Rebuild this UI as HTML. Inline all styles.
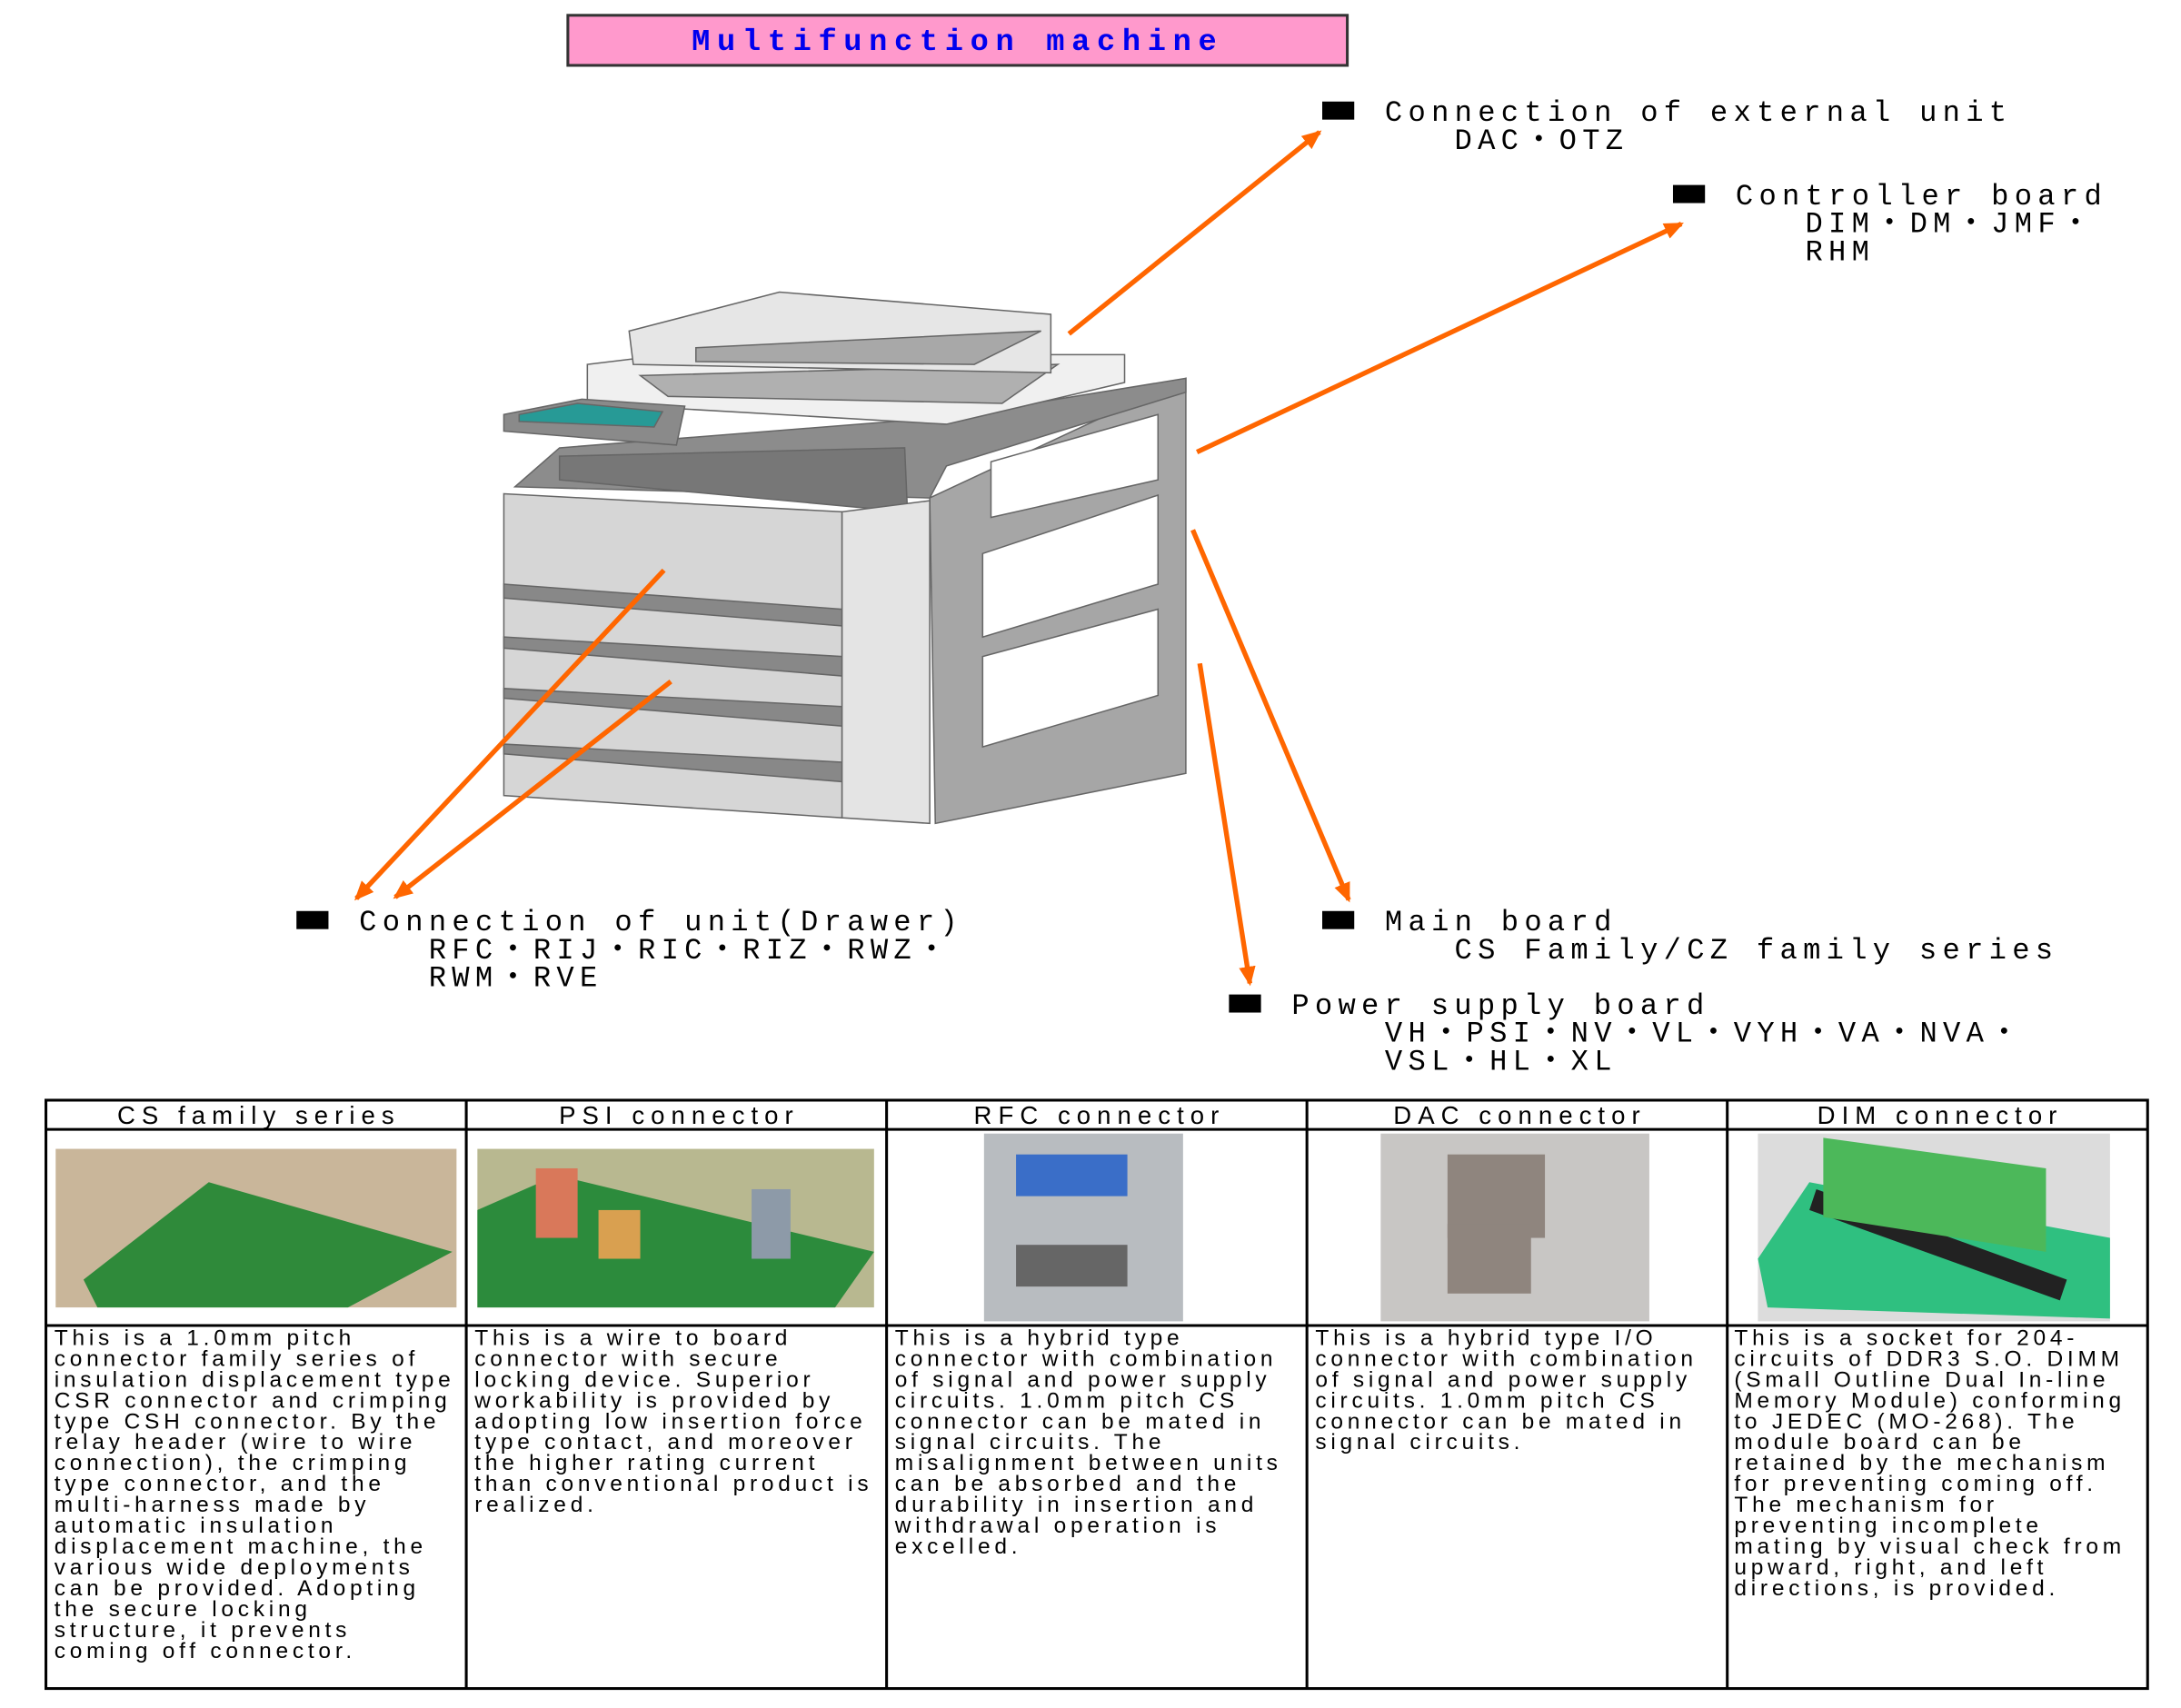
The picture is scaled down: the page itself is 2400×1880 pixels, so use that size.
<!DOCTYPE html>
<html><head><meta charset="utf-8"><style>
html,body{margin:0;padding:0;background:#fff;}
svg{display:block}
.lb{font-family:"Liberation Mono","Noto Sans CJK JP",monospace;font-size:21px;letter-spacing:4.1px;fill:#000}
.hd{font-family:"Liberation Sans",sans-serif;font-size:18px;letter-spacing:4.6px;fill:#000}
.bd{font-family:"Liberation Sans",sans-serif;font-size:16px;letter-spacing:3.1px;fill:#000}
</style></head><body>
<svg width="2400" height="1880" viewBox="0 0 1567 1228" preserveAspectRatio="none" xmlns="http://www.w3.org/2000/svg">
<defs>
<marker id="a2" markerWidth="14" markerHeight="12" refX="12" refY="6" orient="auto" markerUnits="userSpaceOnUse"><path d="M0,0 L14,6 L0,12 z" fill="#ff6600"/></marker></defs>
<rect x="408" y="11" width="560" height="36" fill="#ff99cc" stroke="#333" stroke-width="2"/>
<text x="688" y="36" text-anchor="middle" font-family="Liberation Mono,monospace" font-weight="bold" font-size="22" letter-spacing="5" fill="#0000ee">Multifunction machine</text>

<!-- printer -->
<g stroke="#666" stroke-width="1">
<polygon points="668,358 852,272 852,556 672,592" fill="#a6a6a6"/>
<polygon points="712,332 832,298 832,345 712,372" fill="#fff"/>
<polygon points="706,398 832,356 832,420 706,458" fill="#fff"/>
<polygon points="706,472 832,438 832,500 706,537" fill="#fff"/>
<polygon points="402,322 680,300 852,272 852,282 680,335 668,358 370,350" fill="#8c8c8c"/>
<polygon points="402,328 650,322 652,368 402,345" fill="#777"/>
<polygon points="362,355 605,368 605,588 362,572" fill="#d6d6d6"/>
<polygon points="362,420 605,438 605,450 362,430" fill="#888"/>
<polygon points="362,458 605,472 605,486 362,466" fill="#888"/>
<polygon points="362,495 605,508 605,522 362,502" fill="#888"/>
<polygon points="362,535 605,548 605,562 362,542" fill="#888"/>
<polygon points="605,368 668,360 668,592 605,588" fill="#e4e4e4"/>
<polygon points="422,262 480,255 808,255 808,275 680,305 422,290" fill="#f0f0f0"/>
<polygon points="460,270 760,262 720,290 480,285" fill="#b0b0b0"/>
<polygon points="452,238 560,210 755,226 755,268 455,262" fill="#e6e6e6"/>
<polygon points="500,250 748,238 700,262 500,260" fill="#a8a8a8"/>
<polygon points="362,298 418,287 492,292 486,320 362,310" fill="#8a8a8a"/>
<polygon points="373,298 415,290 476,296 470,307 373,303" fill="#279a96"/>
</g>

<!-- arrows -->
<g stroke="#ff6600" stroke-width="3.5" fill="none" marker-end="url(#a2)">
<line x1="768" y1="240" x2="948" y2="95"/>
<line x1="860" y1="325" x2="1208" y2="161"/>
<line x1="477" y1="410" x2="256" y2="646"/>
<line x1="482" y1="490" x2="284" y2="645"/>
<line x1="857" y1="381" x2="969" y2="647"/>
<line x1="862" y1="477" x2="898" y2="707"/>
</g>

<!-- labels -->
<g fill="#000">
<rect x="950" y="73" width="23" height="13"/><rect x="1202" y="133" width="23" height="13"/>
<rect x="213" y="655" width="23" height="13"/><rect x="950" y="655" width="23" height="13"/>
<rect x="883" y="715" width="23" height="13"/></g>
<text class="lb" x="995" y="87">Connection of external unit</text>
<text class="lb" x="1045" y="107">DAC・OTZ</text>
<text class="lb" x="1247" y="147">Controller board</text>
<text class="lb" x="1297" y="167">DIM・DM・JMF・</text>
<text class="lb" x="1297" y="187">RHM</text>
<text class="lb" x="258" y="669">Connection of unit(Drawer)</text>
<text class="lb" x="308" y="689">RFC・RIJ・RIC・RIZ・RWZ・</text>
<text class="lb" x="308" y="709">RWM・RVE</text>
<text class="lb" x="995" y="669">Main board</text>
<text class="lb" x="1045" y="689">CS Family/CZ family series</text>
<text class="lb" x="928" y="729">Power supply board</text>
<text class="lb" x="995" y="749">VH・PSI・NV・VL・VYH・VA・NVA・</text>
<text class="lb" x="995" y="769">VSL・HL・XL</text>

<!-- table -->
<g stroke="#000" stroke-width="2" fill="none">
<rect x="33" y="791" width="1510" height="423"/>
<line x1="33" y1="812" x2="1543" y2="812"/>
<line x1="33" y1="953" x2="1543" y2="953"/>
<line x1="335" y1="791" x2="335" y2="1214"/><line x1="637" y1="791" x2="637" y2="1214"/>
<line x1="939" y1="791" x2="939" y2="1214"/><line x1="1241" y1="791" x2="1241" y2="1214"/>
</g>
<g text-anchor="middle"><text class="hd" x="186" y="808">CS family series</text>
<text class="hd" x="488" y="808">PSI connector</text>
<text class="hd" x="790" y="808">RFC connector</text>
<text class="hd" x="1092" y="808">DAC connector</text>
<text class="hd" x="1394" y="808">DIM connector</text></g>

<!-- photo placeholders -->
<rect x="40" y="826" width="288" height="114" fill="#c9b69a"/>
<polygon points="60,920 150,850 325,900 250,940 70,940" fill="#2f8a3a"/>
<rect x="343" y="826" width="285" height="114" fill="#b8b890"/>
<polygon points="343,870 400,845 628,900 600,940 343,940" fill="#2c8b3c"/>
<rect x="385" y="840" width="30" height="50" fill="#d9785a"/><rect x="430" y="870" width="30" height="35" fill="#d9a050"/><rect x="540" y="855" width="28" height="50" fill="#8d9aa8"/>
<rect x="707" y="815" width="143" height="135" fill="#b8bcc0"/>
<rect x="730" y="830" width="80" height="30" fill="#3a6ec8"/><rect x="730" y="895" width="80" height="30" fill="#666"/>
<rect x="992" y="815" width="193" height="135" fill="#c8c6c4"/>
<rect x="1040" y="830" width="70" height="60" fill="#8f857e"/><rect x="1040" y="880" width="60" height="50" fill="#8f857e"/>
<rect x="1263" y="815" width="253" height="135" fill="#dcdcdc"/>
<polygon points="1263,905 1300,850 1516,890 1516,948 1270,940" fill="#2fc080"/>
<polygon points="1300,870 1480,935 1485,920 1305,855" fill="#222"/>
<polygon points="1310,818 1470,840 1470,900 1310,875" fill="#4cb85a"/>

<g class="bd">
<text class="bd" x="39" y="967">This is a 1.0mm pitch</text>
<text class="bd" x="39" y="982">connector family series of</text>
<text class="bd" x="39" y="997">insulation displacement type</text>
<text class="bd" x="39" y="1012">CSR connector and crimping</text>
<text class="bd" x="39" y="1027">type CSH connector. By the</text>
<text class="bd" x="39" y="1042">relay header (wire to wire</text>
<text class="bd" x="39" y="1057">connection), the crimping</text>
<text class="bd" x="39" y="1072">type connector, and the</text>
<text class="bd" x="39" y="1087">multi-harness made by</text>
<text class="bd" x="39" y="1102">automatic insulation</text>
<text class="bd" x="39" y="1117">displacement machine, the</text>
<text class="bd" x="39" y="1132">various wide deployments</text>
<text class="bd" x="39" y="1147">can be provided. Adopting</text>
<text class="bd" x="39" y="1162">the secure locking</text>
<text class="bd" x="39" y="1177">structure, it prevents</text>
<text class="bd" x="39" y="1192">coming off connector.</text>

<text class="bd" x="341" y="967">This is a wire to board</text>
<text class="bd" x="341" y="982">connector with secure</text>
<text class="bd" x="341" y="997">locking device. Superior</text>
<text class="bd" x="341" y="1012">workability is provided by</text>
<text class="bd" x="341" y="1027">adopting low insertion force</text>
<text class="bd" x="341" y="1042">type contact, and moreover</text>
<text class="bd" x="341" y="1057">the higher rating current</text>
<text class="bd" x="341" y="1072">than conventional product is</text>
<text class="bd" x="341" y="1087">realized.</text>

<text class="bd" x="643" y="967">This is a hybrid type</text>
<text class="bd" x="643" y="982">connector with combination</text>
<text class="bd" x="643" y="997">of signal and power supply</text>
<text class="bd" x="643" y="1012">circuits. 1.0mm pitch CS</text>
<text class="bd" x="643" y="1027">connector can be mated in</text>
<text class="bd" x="643" y="1042">signal circuits. The</text>
<text class="bd" x="643" y="1057">misalignment between units</text>
<text class="bd" x="643" y="1072">can be absorbed and the</text>
<text class="bd" x="643" y="1087">durability in insertion and</text>
<text class="bd" x="643" y="1102">withdrawal operation is</text>
<text class="bd" x="643" y="1117">excelled.</text>

<text class="bd" x="945" y="967">This is a hybrid type I/O</text>
<text class="bd" x="945" y="982">connector with combination</text>
<text class="bd" x="945" y="997">of signal and power supply</text>
<text class="bd" x="945" y="1012">circuits. 1.0mm pitch CS</text>
<text class="bd" x="945" y="1027">connector can be mated in</text>
<text class="bd" x="945" y="1042">signal circuits.</text>

<text class="bd" x="1246" y="967">This is a socket for 204-</text>
<text class="bd" x="1246" y="982">circuits of DDR3 S.O. DIMM</text>
<text class="bd" x="1246" y="997">(Small Outline Dual In-line</text>
<text class="bd" x="1246" y="1012">Memory Module) conforming</text>
<text class="bd" x="1246" y="1027">to JEDEC (MO-268).  The</text>
<text class="bd" x="1246" y="1042">module board can be</text>
<text class="bd" x="1246" y="1057">retained by the mechanism</text>
<text class="bd" x="1246" y="1072">for preventing coming off.</text>
<text class="bd" x="1246" y="1087">The mechanism for</text>
<text class="bd" x="1246" y="1102">preventing incomplete</text>
<text class="bd" x="1246" y="1117">mating by visual check from</text>
<text class="bd" x="1246" y="1132">upward, right, and left</text>
<text class="bd" x="1246" y="1147">directions, is provided.</text>
</g>
</svg>
</body></html>
